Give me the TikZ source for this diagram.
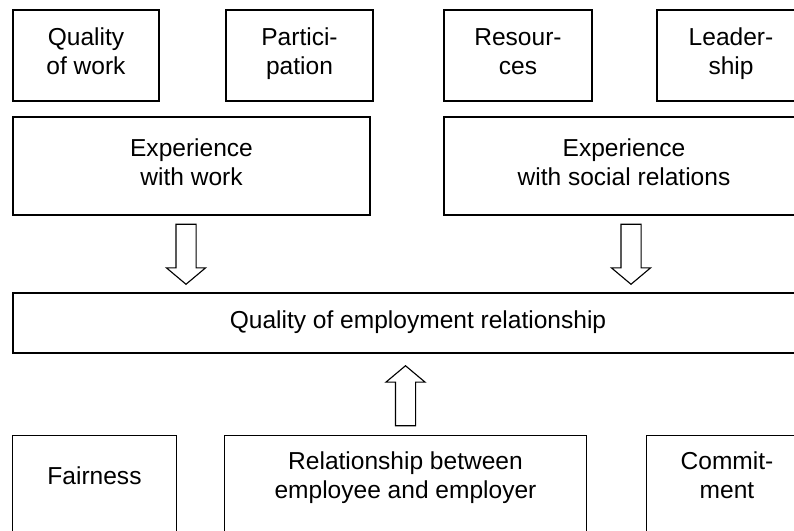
\documentclass[tikz,border=0pt]{standalone}
\usepackage{fontspec}
\setmainfont{Liberation Sans}
\usetikzlibrary{shapes.arrows, calc}

\begin{document}
\begin{tikzpicture}[
	box/.style={draw, line width=1pt, align=center, inner sep=0pt, font=\fontsize{17.45}{20.6}\selectfont, execute at begin node=\strut, execute at end node=\strut},
	openbox/.style={box, draw=none, minimum height=2.15cm},
	harrow/.style={draw, single arrow, line width=.8pt, inner xsep=.2375cm, inner ysep=0pt, minimum height=1.5cm, single arrow head extend=.2375cm, single arrow tip angle=100}]
	\useasboundingbox (0,0) rectangle (19.85,-13.275);
	\node[box, minimum width=3.65cm, minimum height=2.275cm] (qwork) at (2.15,-1.3875) {Quality\\of work};
	\node[box, minimum width=3.675cm, minimum height=2.275cm] (partic) at (7.4875,-1.3875) {Partici-\\pation};
	\node[box, minimum width=3.7cm, minimum height=2.275cm] (resour) at (12.95,-1.3875) {Resour-\\ces};
	\node[box, minimum width=3.7cm, minimum height=2.275cm] (leader) at (18.275,-1.3875) {Leader-\\ship};
	\node[box, minimum width=8.925cm, minimum height=2.45cm] (expwork) at (4.7875,-4.15) {Experience\\with work};
	\node[box, minimum width=9cm, minimum height=2.45cm] (expsoc) at (15.6,-4.15) {Experience\\with social relations};
	\node[box, minimum width=20.25cm, minimum height=1.5cm] (quality) at (10.45,-8.075) {Quality of employment relationship};
	\node[openbox, minimum width=4.075cm] (fair) at (2.3625,-11.975) {Fairness};
	\node[openbox, minimum width=9.025cm] (relat) at (10.1375,-11.975) {Relationship between\\employee and employer};
	\node[openbox, minimum width=4cm] (commit) at (18.175,-11.975) {Commit-\\ment};
	\draw[line width=1pt] ([yshift=-1cm]fair.south west) |- (fair.north east) -- ++(0,-3.2);
	\draw[line width=1pt] ([yshift=-1cm]relat.south west) |- (relat.north east) -- ++(0,-3.2);
	\draw[line width=1pt] ([yshift=-1cm]commit.south west) |- (commit.north east) -- ++(0,-3.2);
	\node[harrow, shape border rotate=270, anchor=tail] (arrwork) at ($(expwork.south)+(-.1375,-.2)$) {};
	\node[harrow, shape border rotate=270, anchor=tail] (arrsoc) at ($(expsoc.south)+(.175,-.2)$) {};
	\node[harrow, shape border rotate=90, anchor=tail] (arrrel) at ($(relat.north)+(0,.225)$) {};
\end{tikzpicture}
\end{document}
